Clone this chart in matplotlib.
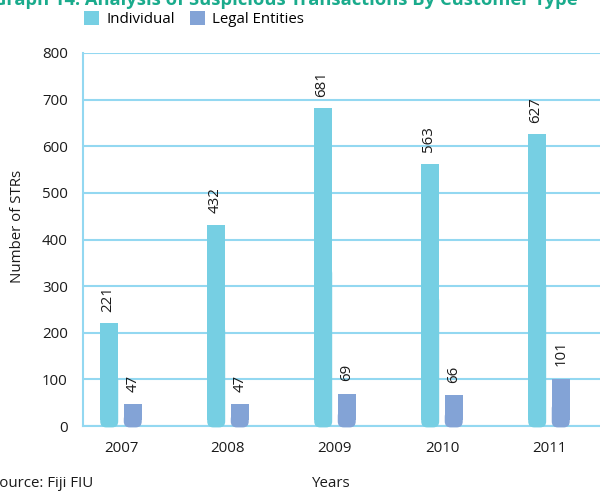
import matplotlib
matplotlib.use("Agg")
import matplotlib.pyplot as plt
from matplotlib.patches import FancyBboxPatch, Rectangle
import numpy as np

years = ["2007", "2008", "2009", "2010", "2011"]
individual = [221, 432, 681, 563, 627]
legal = [47, 47, 69, 66, 101]
series_names = ["Individual", "Legal Entities"]
yticks = [0, 100, 200, 300, 400, 500, 600, 700, 800]

plt.rcParams['font.family'] = ['Open Sans', 'DejaVu Sans']

c_ind = "#76cfe3"
c_leg = "#83a3d6"
c_grid = "#93d8f1"
c_title = "#1aab8c"
c_text = "#1a1a1a"
fs = 10.8

fig = plt.figure(figsize=(6.0, 4.91), dpi=100)
ax = fig.add_axes([83/600, 65/491, 517/600, 373/491])

x = np.arange(len(years))
w = 0.168
off = 0.11
ax.set_xlim(-0.355, 4.477)
ax.set_ylim(0, 800)

px_x = 107.0
px_y = 373/800.0
r_px = 6.0

def rbar(xc, val, color):
    rx = r_px / px_x
    r_data = r_px / px_y
    box_top = max(val * 0.5, 2 * r_data + 2)
    box = FancyBboxPatch((xc - w/2, -3), w, box_top + 3,
                         boxstyle=f"round,pad=0,rounding_size={rx}",
                         mutation_aspect=(px_x/px_y),
                         fc=color, ec='none', zorder=3, clip_on=False, lw=0)
    ax.add_patch(box)
    top = Rectangle((xc - w/2, r_data + 1), w, val - r_data - 1,
                    fc=color, ec='none', zorder=3, lw=0)
    ax.add_patch(top)

for i in range(len(years)):
    rbar(x[i] - off, individual[i], c_ind)
    rbar(x[i] + off, legal[i], c_leg)
    ax.annotate(str(individual[i]), (x[i] - off - 0.012, individual[i]), xytext=(0, 8),
                textcoords='offset points', rotation=90, ha='center', va='bottom',
                fontsize=fs, color=c_text)
    ax.annotate(str(legal[i]), (x[i] + off, legal[i]), xytext=(0, 9),
                textcoords='offset points', rotation=90, ha='center', va='bottom',
                fontsize=fs, color=c_text)

ax.set_yticks(yticks)
ax.set_xticks(x)
ax.set_xticklabels(years)
ax.tick_params(axis='both', length=0, labelsize=fs, colors=c_text)
ax.tick_params(axis='y', pad=11)
ax.tick_params(axis='x', pad=11)
ax.yaxis.grid(True, color=c_grid, linewidth=1.5, zorder=0)
ax.set_axisbelow(True)
for s in ['top', 'right']:
    ax.spines[s].set_visible(False)
ax.spines['left'].set_color(c_grid)
ax.spines['left'].set_linewidth(1.5)
ax.spines['bottom'].set_color(c_grid)
ax.spines['bottom'].set_linewidth(1.5)

fig.text(18/600, 1 - 226/491, "Number of STRs", rotation=90, ha='center', va='center',
         fontsize=fs, color=c_text)
fig.text(331/600, 1 - 487/491, "Years", ha='center', va='baseline', fontsize=fs, color=c_text)
fig.text(-9/600, 1 - 487/491, "Source: Fiji FIU", ha='left', va='baseline', fontsize=fs, color=c_text)
fig.text(578/600, 1 - 5/491, "Graph 14: Analysis of Suspicious Transactions By Customer Type",
         ha='right', va='baseline', fontsize=13.2, fontweight='bold', color=c_title)

handles = [Rectangle((0, 0), 1, 1, fc=c_ind, ec='none'), Rectangle((0, 0), 1, 1, fc=c_leg, ec='none')]
leg = fig.legend(handles, series_names, loc='center', bbox_to_anchor=(194/600, 1 - 19/491),
                 ncol=2, frameon=False, fontsize=fs, handlelength=1.0, handleheight=1.0,
                 handletextpad=0.5, columnspacing=1.0, borderaxespad=0, borderpad=0)

fig.savefig("out.png", dpi=100)
